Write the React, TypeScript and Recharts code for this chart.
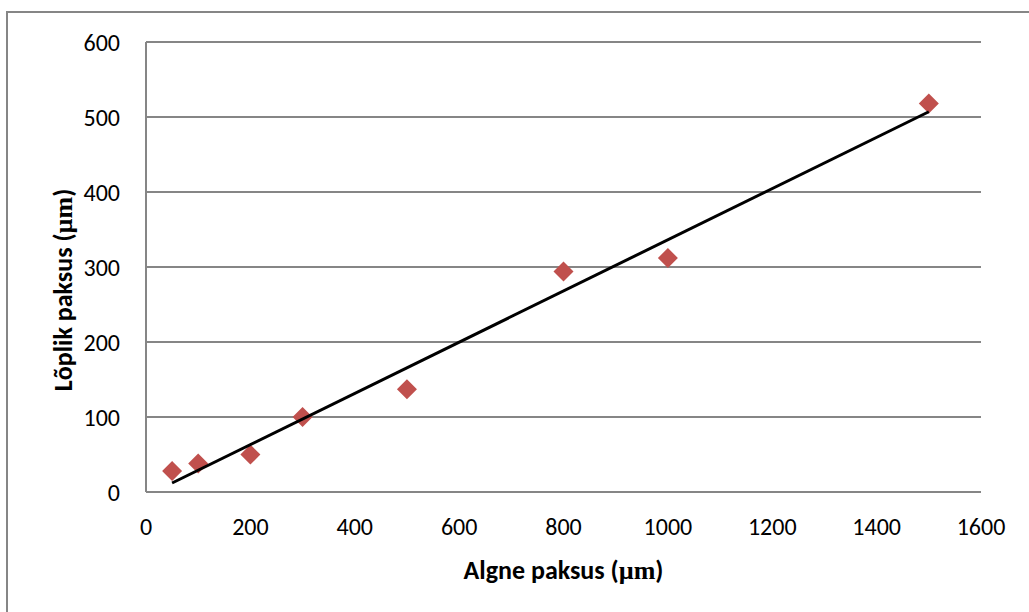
import React from "react";
import { ScatterChart, Scatter, XAxis, YAxis, CartesianGrid, Label } from "recharts";

// measured thickness (µm)
const initialThickness = [50, 100, 200, 300, 500, 800, 1000, 1500];
const finalThickness = [28, 38, 50, 100, 137, 294, 312, 518];

// linear trendline endpoints
const trendX = [50, 1500];
const trendY = [12, 507];

const xTicks = [0, 200, 400, 600, 800, 1000, 1200, 1400, 1600];
const yTicks = [0, 100, 200, 300, 400, 500, 600];

const xTitle = "Algne paksus";
const yTitle = "Lõplik paksus";

const points = initialThickness.map((x, i) => ({ x, y: finalThickness[i] }));
const trend = trendX.map((x, i) => ({ x, y: trendY[i] }));

const FONT = "Carlito, Calibri, 'Open Sans', sans-serif";
const SERIF = "'Liberation Serif', 'DejaVu Serif', serif";
const GRAY = "#868686";

function Diamond(props: any) {
  const { cx, cy } = props;
  const r = 10;
  return (
    <polygon
      points={`${cx},${cy - r} ${cx + r},${cy} ${cx},${cy + r} ${cx - r},${cy}`}
      fill="#C0504D"
    />
  );
}

function TitleText({ x, y, angle, text }: any) {
  return (
    <text
      x={x}
      y={y}
      transform={angle ? `rotate(${angle}, ${x}, ${y})` : undefined}
      textAnchor="middle"
      dominantBaseline="central"
      fill="#000"
      fontSize={26}
      fontWeight="bold"
      fontFamily={FONT}
    >
      {text} (<tspan fontFamily={SERIF}>µm</tspan>)
    </text>
  );
}

export default function App() {
  return (
    <div style={{ position: "absolute", left: 0, top: 0, width: 1029, height: 612, background: "#fff" }}>
      <div
        style={{
          position: "absolute",
          left: 6,
          top: 11,
          right: 0,
          bottom: 0,
          borderLeft: `2px solid ${GRAY}`,
          borderTop: `2px solid ${GRAY}`,
        }}
      />
      <ScatterChart
        width={1029}
        height={612}
        margin={{ top: 42, right: 48, bottom: 0, left: 0 }}
        style={{ position: "absolute", left: 0, top: 0, fontFamily: FONT }}
      >
        <CartesianGrid vertical={false} stroke={GRAY} strokeWidth={2} />
        <XAxis
          type="number"
          dataKey="x"
          domain={[0, 1600]}
          ticks={xTicks}
          tickLine={false}
          tickSize={0}
          tickMargin={26}
          height={120}
          axisLine={{ stroke: GRAY, strokeWidth: 2 }}
          tick={{ fill: "#000", fontSize: 24, fontFamily: FONT }}
        >
          <Label
            content={(p: any) => (
              <TitleText x={p.viewBox.x + p.viewBox.width / 2} y={p.viewBox.y + 78} text={xTitle} />
            )}
          />
        </XAxis>
        <YAxis
          type="number"
          dataKey="y"
          domain={[0, 600]}
          ticks={yTicks}
          tickLine={false}
          tickSize={0}
          tickMargin={26}
          width={146}
          axisLine={{ stroke: GRAY, strokeWidth: 2 }}
          tick={{ fill: "#000", fontSize: 24, fontFamily: FONT }}
        >
          <Label
            content={(p: any) => (
              <TitleText x={p.viewBox.x + 63} y={p.viewBox.y + p.viewBox.height / 2 + 23} angle={-90} text={yTitle} />
            )}
          />
        </YAxis>
        <Scatter data={points} shape={<Diamond />} isAnimationActive={false} />
        <Scatter
          data={trend}
          line={{ stroke: "#000", strokeWidth: 3 }}
          shape={() => <g />}
          isAnimationActive={false}
        />
      </ScatterChart>
    </div>
  );
}
